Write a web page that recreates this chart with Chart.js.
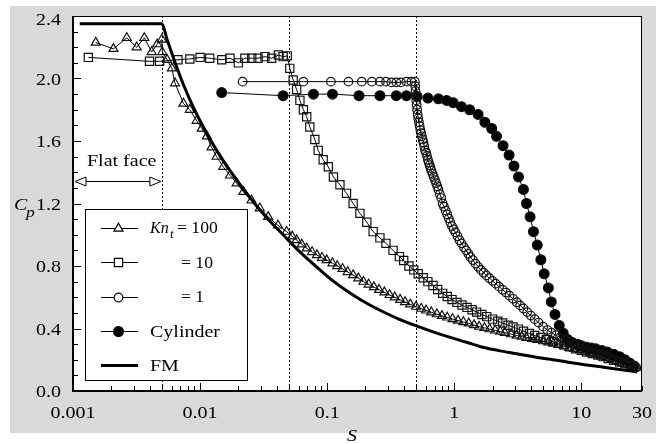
<!DOCTYPE html>
<html>
<head>
<meta charset="utf-8">
<title>Cp vs S</title>
<script src="https://cdn.jsdelivr.net/npm/chart.js@4.4.1/dist/chart.umd.min.js"></script>
<style>
  html, body { margin: 0; padding: 0; background: #fff; }
  canvas { display: block; }
</style>
</head>
<body>
<canvas id="cp" width="669" height="444"></canvas>
<script>
// Free-molecular limit (thick line)
const sFM = [0.00113, 0.005, 0.0055, 0.006, 0.0065, 0.0074, 0.0088, 0.0106, 0.0135, 0.0172, 0.0247, 0.0336, 0.045, 0.061, 0.085, 0.111, 0.15, 0.203, 0.28, 0.37, 0.51, 0.7, 0.93, 1.25, 1.59, 2.2, 3, 4.5, 6, 8.1, 11, 15, 20, 27.4];
const cpFM = [2.35, 2.35, 2.25, 2.16, 2.08, 1.96, 1.82, 1.69, 1.54, 1.41, 1.237, 1.107, 1.0, 0.89, 0.785, 0.705, 0.629, 0.563, 0.504, 0.459, 0.415, 0.375, 0.343, 0.312, 0.285, 0.26, 0.24, 0.215, 0.2, 0.183, 0.166, 0.152, 0.138, 0.122];

// Kn_t = 100
const s100 = [0.00151, 0.00208, 0.00265, 0.00317, 0.00364, 0.00416, 0.0046, 0.0050, 0.00504, 0.0055, 0.0060, 0.00635, 0.0074, 0.0083, 0.0094, 0.0103, 0.0113, 0.0123, 0.0135, 0.0152, 0.0172, 0.0194, 0.0219, 0.0254, 0.0295, 0.0343, 0.041,
  0.048, 0.053, 0.0575, 0.063, 0.069, 0.076, 0.083, 0.091, 0.099, 0.11, 0.12, 0.132, 0.145, 0.16, 0.176, 0.193, 0.212, 0.233, 0.256, 0.282,
  0.31, 0.34, 0.375, 0.41, 0.45, 0.5, 0.55, 0.6, 0.66, 0.73, 0.8, 0.88, 0.97, 1.07, 1.18, 1.3, 1.43, 1.57, 1.73, 1.9,
  2.1, 2.3, 2.5, 2.8, 3.1, 3.4, 3.7, 4.1, 4.5, 5.0, 5.5, 6.0, 6.6, 7.3, 8.0, 8.8, 9.7, 10.7, 11.8, 13, 14.3, 15.7, 17.3, 19, 21, 23, 25, 27];
const cp100 = [2.23, 2.19, 2.26, 2.20, 2.26, 2.17, 2.22, 2.25, 2.17, 2.12, 2.065, 1.97, 1.84, 1.80, 1.73, 1.68, 1.63, 1.56, 1.50, 1.435, 1.38, 1.33, 1.275, 1.22, 1.17, 1.115, 1.06,
  1.02, 0.99, 0.966, 0.939, 0.913, 0.89, 0.87, 0.853, 0.838, 0.818, 0.80, 0.782, 0.762, 0.742, 0.722, 0.70, 0.682, 0.665, 0.648, 0.632,
  0.615, 0.60, 0.584, 0.57, 0.555, 0.54, 0.527, 0.516, 0.504, 0.492, 0.481, 0.471, 0.461, 0.451, 0.442, 0.433, 0.422, 0.412, 0.404, 0.396,
  0.388, 0.38, 0.373, 0.364, 0.355, 0.348, 0.341, 0.334, 0.327, 0.319, 0.312, 0.305, 0.296, 0.287, 0.278, 0.27, 0.262, 0.253, 0.244, 0.234, 0.224, 0.214, 0.204, 0.194, 0.183, 0.172, 0.162, 0.15];

// Kn_t = 10
const s10 = [0.00132, 0.0040, 0.0048, 0.0067, 0.0083, 0.0100, 0.0119, 0.0148, 0.0172, 0.020, 0.0225, 0.0255, 0.0286, 0.0324, 0.0366, 0.0413, 0.045, 0.0485,
  0.0508, 0.054, 0.0575, 0.061, 0.065, 0.069, 0.073, 0.080, 0.085, 0.093, 0.102, 0.112, 0.126, 0.142, 0.16, 0.181, 0.205, 0.23, 0.26, 0.29, 0.33,
  0.37, 0.4, 0.44, 0.48, 0.52, 0.57, 0.62, 0.68, 0.74, 0.81, 0.88, 0.96, 1.05, 1.15, 1.26, 1.38, 1.5, 1.65, 1.8, 2.0,
  2.2, 2.4, 2.65, 2.9, 3.2, 3.5, 3.9, 4.3, 4.8, 5.3, 6.0, 6.6, 7.3, 8.1, 9, 10, 11, 12.2, 13.5, 14.8, 16.3, 18, 20, 22, 24, 25.5];
const cp10 = [2.135, 2.11, 2.11, 2.12, 2.125, 2.135, 2.13, 2.12, 2.13, 2.10, 2.13, 2.13, 2.13, 2.14, 2.13, 2.15, 2.14, 2.145,
  2.065, 1.99, 1.93, 1.86, 1.80, 1.755, 1.69, 1.61, 1.54, 1.48, 1.435, 1.37, 1.32, 1.265, 1.2, 1.137, 1.08, 1.02, 0.98, 0.945, 0.90,
  0.86, 0.835, 0.80, 0.775, 0.75, 0.725, 0.70, 0.675, 0.65, 0.625, 0.605, 0.585, 0.567, 0.55, 0.535, 0.52, 0.505, 0.49, 0.476, 0.46,
  0.447, 0.435, 0.421, 0.41, 0.396, 0.383, 0.368, 0.355, 0.342, 0.33, 0.315, 0.305, 0.295, 0.283, 0.27, 0.26, 0.25, 0.24, 0.23, 0.22, 0.208, 0.196, 0.185, 0.175, 0.163, 0.155];

// Kn_t = 1
const s1 = [0.0216, 0.065, 0.107, 0.147, 0.187, 0.225, 0.26, 0.29, 0.32, 0.35, 0.38, 0.42, 0.46, 0.49,
  0.493, 0.496, 0.499, 0.502, 0.506, 0.51, 0.515, 0.52, 0.527, 0.534, 0.541, 0.548, 0.556, 0.564, 0.572, 0.581, 0.59, 0.6, 0.61, 0.62,
  0.63, 0.64, 0.65, 0.66, 0.675, 0.69, 0.705, 0.72, 0.735, 0.75, 0.77, 0.79, 0.81, 0.83, 0.855, 0.88, 0.905, 0.93, 0.96, 0.99,
  1.02, 1.06, 1.1, 1.14, 1.19, 1.24, 1.29, 1.34, 1.4, 1.47, 1.54, 1.62, 1.7, 1.79, 1.89, 2.0, 2.12, 2.25, 2.4, 2.55,
  2.72, 2.9, 3.1, 3.3, 3.5, 3.75, 4.0, 4.3, 4.6, 5.0, 5.4, 5.8, 6.3, 6.8, 7.4, 8.0, 8.8, 9.6, 10.5, 11.5, 12.6, 13.8, 15, 16.5, 18, 20, 22, 24.5, 27];
const cp1 = [1.98, 1.98, 1.98, 1.98, 1.98, 1.98, 1.98, 1.98, 1.975, 1.975, 1.975, 1.98, 1.98, 1.98,
  1.95, 1.92, 1.89, 1.86, 1.83, 1.80, 1.77, 1.745, 1.72, 1.695, 1.67, 1.65, 1.63, 1.61, 1.59, 1.565, 1.54, 1.525, 1.505, 1.48,
  1.462, 1.445, 1.428, 1.41, 1.39, 1.37, 1.35, 1.33, 1.31, 1.29, 1.26, 1.235, 1.20, 1.18, 1.155, 1.13, 1.105, 1.08, 1.055, 1.035,
  1.015, 0.99, 0.965, 0.945, 0.92, 0.90, 0.878, 0.858, 0.838, 0.815, 0.795, 0.775, 0.757, 0.74, 0.722, 0.705, 0.687, 0.668, 0.648, 0.63,
  0.61, 0.59, 0.568, 0.548, 0.528, 0.505, 0.483, 0.46, 0.438, 0.412, 0.39, 0.373, 0.357, 0.343, 0.328, 0.315, 0.30, 0.288, 0.275, 0.262, 0.25, 0.238, 0.228, 0.216, 0.204, 0.19, 0.178, 0.165, 0.15];

// Cylinder
const sCyl = [0.0148, 0.045, 0.078, 0.11, 0.178, 0.26, 0.35, 0.42, 0.51, 0.62, 0.75, 0.87, 0.98, 1.14, 1.32, 1.54, 1.74, 1.97, 2.15, 2.42, 2.7, 2.95, 3.2, 3.5, 3.7, 3.95, 4.2, 4.5, 4.8, 5.1, 5.5, 5.8, 6.2, 6.7, 7.2, 7.8, 8.5, 9.3, 10, 11, 12, 13, 14.5, 16, 18, 20, 22, 24, 26];
const cpCyl = [1.91, 1.89, 1.90, 1.90, 1.89, 1.89, 1.89, 1.89, 1.885, 1.875, 1.87, 1.86, 1.845, 1.82, 1.80, 1.77, 1.72, 1.68, 1.63, 1.57, 1.51, 1.44, 1.37, 1.29, 1.20, 1.115, 1.02, 0.934, 0.84, 0.75, 0.66, 0.57, 0.49, 0.42, 0.37, 0.33, 0.31, 0.30, 0.29, 0.28, 0.275, 0.27, 0.26, 0.25, 0.235, 0.22, 0.20, 0.18, 0.16];

// axes
const xTicks = [0.001, 0.01, 0.1, 1, 10, 30];
const xTickLabels = ['0.001', '0.01', '0.1', '1', '10', '30'];
const yTicks = [0, 0.4, 0.8, 1.2, 1.6, 2.0, 2.4];
const yTickLabels = ['0.0', '0.4', '0.8', '1.2', '1.6', '2.0', '2.4'];
const edgeS = [0.005, 0.05, 0.5];   // dotted verticals

const pts = (xs, ys) => xs.map((x, i) => ({ x, y: ys[i] }));

const SERIF = '"Liberation Serif", "Times New Roman", serif';

// serif text, drawn a little wide like the rest of the figure
function txt(ctx, s, x, y, opt = {}) {
  const size = opt.size || 16;
  const wide = opt.wide || 1.25;
  ctx.save();
  ctx.font = (opt.italic ? 'italic ' : '') + size + 'px ' + SERIF;
  const w = ctx.measureText(s).width * wide;
  let x0 = x;
  if (opt.align === 'center') x0 = x - w / 2;
  else if (opt.align === 'right') x0 = x - w;
  ctx.translate(x0, y);
  ctx.scale(wide, 1);
  ctx.textAlign = 'left';
  ctx.textBaseline = 'alphabetic';
  ctx.fillStyle = '#000';
  ctx.fillText(s, 0, 0);
  ctx.restore();
  return w;
}

const mk = {
  tri: { pointStyle: 'triangle', radius: 5.2, fill: 'rgba(0,0,0,0)' },
  sq: { pointStyle: 'rect', radius: 5.8, fill: 'rgba(0,0,0,0)' },
  circ: { pointStyle: 'circle', radius: 4.3, fill: 'rgba(0,0,0,0)' },
  dot: { pointStyle: 'circle', radius: 4.9, fill: '#000' }
};

function series(label, xs, ys, m) {
  return {
    label, data: pts(xs, ys), showLine: true,
    borderColor: '#000', borderWidth: 1,
    pointStyle: m.pointStyle, pointRadius: m.radius,
    pointBackgroundColor: m.fill, pointBorderColor: '#111', pointBorderWidth: 1.2
  };
}

const frame = {
  id: 'frame',
  beforeDraw(chart) {
    const { ctx, chartArea: a } = chart;
    ctx.save();
    ctx.fillStyle = '#fff';
    ctx.fillRect(0, 0, chart.width, chart.height);
    ctx.fillStyle = '#d9d9d9';
    ctx.fillRect(10, 6, 646, 427);
    ctx.fillStyle = '#fff';
    ctx.fillRect(a.left, a.top, a.right - a.left, a.bottom - a.top);
    ctx.restore();
  },
  beforeDatasetsDraw(chart) {
    const { ctx, chartArea: a, scales: { x } } = chart;
    ctx.save();
    ctx.strokeStyle = '#000';
    ctx.lineWidth = 1;
    ctx.setLineDash([2, 2]);
    edgeS.forEach(s => {
      const px = Math.round(x.getPixelForValue(s)) + 0.5;
      ctx.beginPath();
      ctx.moveTo(px, a.top);
      ctx.lineTo(px, a.bottom);
      ctx.stroke();
    });
    ctx.restore();
  },
  afterDraw(chart) {
    const { ctx, chartArea: a, scales: { x, y } } = chart;
    ctx.save();
    ctx.strokeStyle = '#000';

    // box, with heavier left and bottom axes
    ctx.lineWidth = 1;
    ctx.strokeRect(a.left + 0.5, a.top + 0.5, a.right - a.left - 1, a.bottom - a.top - 1);
    ctx.lineWidth = 2;
    ctx.beginPath();
    ctx.moveTo(a.left, a.top);
    ctx.lineTo(a.left, a.bottom);
    ctx.lineTo(a.right, a.bottom);
    ctx.stroke();

    // inward ticks
    ctx.lineWidth = 1;
    ctx.beginPath();
    for (let i = 0; i <= 24; i++) {
      const py = Math.round(y.getPixelForValue(i / 10)) + 0.5;
      const len = i % 4 === 0 ? 8 : 5;
      ctx.moveTo(a.left, py);
      ctx.lineTo(a.left + len, py);
    }
    [0.001, 0.01, 0.1, 1, 10].forEach(d => {
      for (let k = 1; k <= 9; k++) {
        const v = d * k;
        if (v > 30) break;
        const px = Math.round(x.getPixelForValue(v)) + 0.5;
        ctx.moveTo(px, a.bottom);
        ctx.lineTo(px, a.bottom - (k === 1 ? 8 : 5));
      }
    });
    ctx.stroke();

    // tick labels
    yTicks.forEach((v, i) => {
      const py = y.getPixelForValue(v);
      txt(ctx, yTickLabels[i], 61, Math.max(py + 6, a.top + 9), { align: 'right' });
    });
    xTicks.forEach((v, i) => {
      txt(ctx, xTickLabels[i], x.getPixelForValue(v), 418, { align: 'center' });
    });

    // axis titles
    txt(ctx, 'S', 352, 441, { italic: true, align: 'center' });
    txt(ctx, 'C', 14, 210, { italic: true });
    txt(ctx, 'p', 26, 217, { italic: true, size: 14 });

    // flat face span
    const ax = a.left + 2, bx = x.getPixelForValue(edgeS[0]) - 1, ay = 181.5;
    txt(ctx, 'Flat face', 87, 166);
    ctx.beginPath();
    ctx.moveTo(ax + 10, ay);
    ctx.lineTo(bx - 10, ay);
    ctx.stroke();
    ctx.fillStyle = '#fff';
    [[ax, 1], [bx, -1]].forEach(([tx, dir]) => {
      ctx.beginPath();
      ctx.moveTo(tx, ay);
      ctx.lineTo(tx + dir * 11, ay - 4.5);
      ctx.lineTo(tx + dir * 11, ay + 4.5);
      ctx.closePath();
      ctx.fill();
      ctx.stroke();
    });

    // legend
    ctx.fillStyle = '#fff';
    ctx.fillRect(85, 209, 163, 172);
    ctx.strokeRect(85.5, 209.5, 162, 171);
    const rows = [
      { m: mk.tri, y: 227.5 },
      { m: mk.sq, y: 262 },
      { m: mk.circ, y: 296.5 },
      { m: mk.dot, y: 331 },
      { m: null, y: 365 }
    ];
    rows.forEach(r => {
      const ry = Math.round(r.y) + 0.5;
      ctx.lineWidth = r.m ? 1 : 3;
      ctx.beginPath();
      ctx.moveTo(101, ry);
      ctx.lineTo(138, ry);
      ctx.stroke();
      if (r.m) {
        ctx.lineWidth = 1.2;
        ctx.fillStyle = r.m.fill === '#000' ? '#000' : '#fff';
        Chart.helpers.drawPoint(ctx, { pointStyle: r.m.pointStyle, radius: r.m.radius, borderWidth: 1.2, rotation: 0 }, 118.5, ry);
      }
    });
    txt(ctx, 'Kn', 150, 233, { italic: true, wide: 1.0 });
    txt(ctx, 't', 170, 238, { italic: true, size: 13, wide: 1.0 });
    txt(ctx, '= 100', 177, 233, { wide: 1.1 });
    txt(ctx, '= 10', 181, 267.5, { wide: 1.1 });
    txt(ctx, '= 1', 181, 302, { wide: 1.1 });
    txt(ctx, 'Cylinder', 150, 336.5);
    txt(ctx, 'FM', 150, 370.5);

    ctx.restore();
  }
};

new Chart(document.getElementById('cp'), {
  type: 'scatter',
  data: {
    datasets: [
      { label: 'FM', data: pts(sFM, cpFM), showLine: true, borderColor: '#000', borderWidth: 3, pointRadius: 0, cubicInterpolationMode: 'monotone' },
      series('Kn_t = 100', s100, cp100, mk.tri),
      series('Kn_t = 10', s10, cp10, mk.sq),
      series('Kn_t = 1', s1, cp1, mk.circ),
      series('Cylinder', sCyl, cpCyl, mk.dot)
    ]
  },
  options: {
    responsive: false,
    devicePixelRatio: 1,
    animation: false,
    layout: { padding: { left: 73, top: 16, right: 27, bottom: 53 } },
    plugins: { legend: { display: false }, tooltip: { enabled: false } },
    scales: {
      x: { type: 'logarithmic', min: 0.001, max: 30, display: false },
      y: { type: 'linear', min: 0, max: 2.4, display: false }
    }
  },
  plugins: [frame]
});
</script>
</body>
</html>
